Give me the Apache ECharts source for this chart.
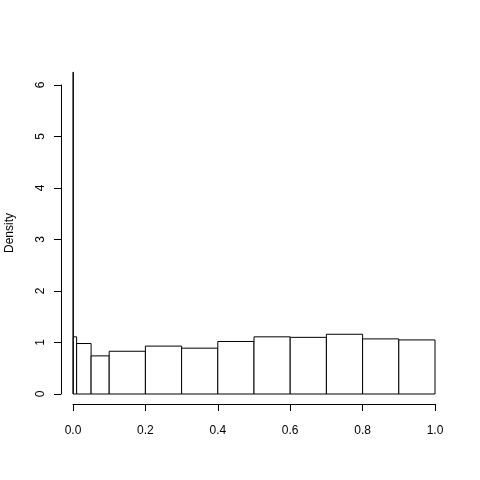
<!DOCTYPE html>
<html>
<head>
<meta charset="utf-8">
<script src="https://cdn.jsdelivr.net/npm/echarts@6/dist/echarts.min.js"></script>
<style>
  html, body { margin: 0; padding: 0; background: #fff; }
  #chart { width: 480px; height: 480px; }
</style>
</head>
<body>
<div id="chart"></div>
<script>
// histogram breaks (unequal bins) and densities
var binStart = [0, 0.001, 0.01, 0.05, 0.1, 0.2, 0.3, 0.4, 0.5, 0.6, 0.7, 0.8, 0.9]
var binEnd = [0.001, 0.01, 0.05, 0.1, 0.2, 0.3, 0.4, 0.5, 0.6, 0.7, 0.8, 0.9, 1.0]
var density = [6.25, 1.11, 0.98, 0.74, 0.83, 0.93, 0.89, 1.02, 1.11, 1.10, 1.16, 1.07, 1.05]

var xTicks = [0, 0.2, 0.4, 0.6, 0.8, 1.0]
var yTicks = [0, 1, 2, 3, 4, 5, 6]
var yTitle = 'Density'

var bins = binStart.map(function (s, i) {
  return [s, binEnd[i], density[i]]
})

var font = 'Liberation Sans, Helvetica, Arial, sans-serif'
var myChart = echarts.init(document.getElementById('chart'), null, { renderer: 'canvas' })

myChart.setOption({
  backgroundColor: '#fff',
  animation: false,
  grid: { left: 73, right: 45, top: 85, bottom: 86, containLabel: false, outerBoundsMode: 'none' },
  // y title centred on R's plot region (which runs a bit past the axis)
  graphic: [{
    type: 'text',
    x: 10,
    y: 233,
    rotation: Math.PI / 2,
    style: {
      text: yTitle,
      fill: '#000',
      fontSize: 12,
      fontFamily: font,
      align: 'center',
      verticalAlign: 'middle'
    }
  }],
  xAxis: {
    type: 'value',
    min: 0,
    max: 1,
    interval: 0.2,
    offset: 10,
    splitLine: { show: false },
    axisLine: { show: true, onZero: false, lineStyle: { color: '#000', width: 1 } },
    axisTick: { show: true, length: 7, lineStyle: { color: '#000' } },
    axisLabel: {
      margin: 21,
      color: '#000',
      fontSize: 12,
      fontFamily: font,
      formatter: function (v) { return xTicks.indexOf(v) >= 0 ? v.toFixed(1) : '' }
    }
  },
  yAxis: {
    type: 'value',
    min: 0,
    max: 6,
    interval: 1,
    offset: 12,
    splitLine: { show: false },
    axisLine: { show: true, onZero: false, lineStyle: { color: '#000', width: 1 } },
    axisTick: { show: true, length: 7, lineStyle: { color: '#000' } },
    axisLabel: {
      rotate: 90,
      margin: 14,
      color: '#000',
      fontSize: 12,
      fontFamily: font,
      formatter: function (v) { return yTicks.indexOf(v) >= 0 ? String(v) : '' }
    }
  },
  series: [{
    type: 'custom',
    clip: false,
    data: bins,
    encode: { x: [0, 1], y: 2 },
    renderItem: function (params, api) {
      var p0 = api.coord([api.value(0), api.value(2)])
      var p1 = api.coord([api.value(1), 0])
      return {
        type: 'rect',
        shape: { x: p0[0], y: p0[1], width: p1[0] - p0[0], height: p1[1] - p0[1] },
        style: { fill: '#fff', stroke: '#000', lineWidth: 1 }
      }
    }
  }]
})
</script>
</body>
</html>
